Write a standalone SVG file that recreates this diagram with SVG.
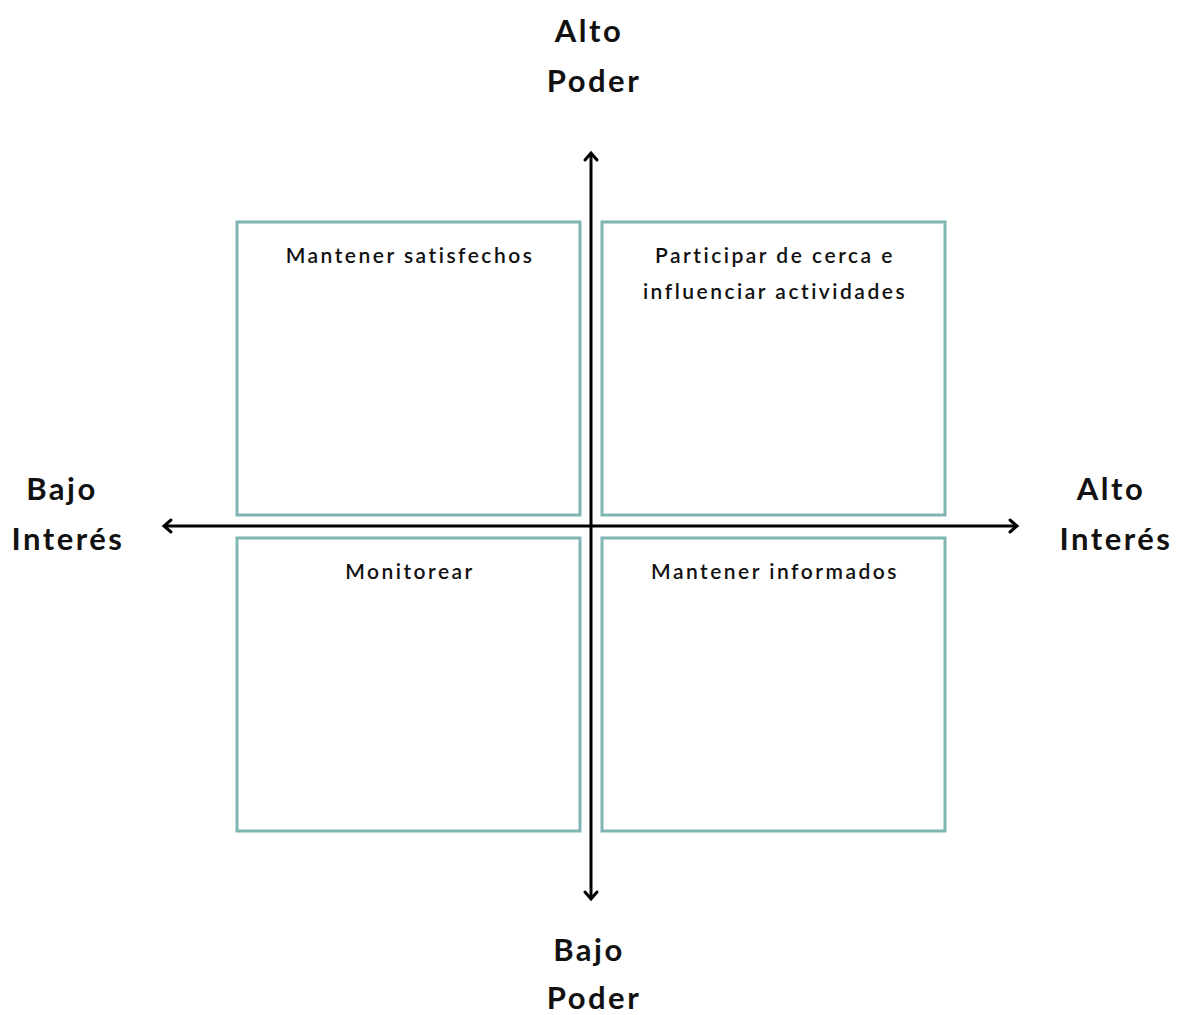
<svg xmlns="http://www.w3.org/2000/svg" width="1180" height="1015" viewBox="0 0 1180 1015">
<style>
.box{fill:#fff;stroke:#7fb5b2;stroke-width:3}
.ax{stroke:#000;stroke-width:3;fill:none}
.hd{stroke:#000;stroke-width:3;fill:none;stroke-linecap:round;stroke-linejoin:miter}
.big{font-family:Lato,"DejaVu Sans",sans-serif;font-size:31px;font-weight:bold;text-anchor:middle;fill:#111;letter-spacing:2.5px}
.lbl{font-family:Lato,"DejaVu Sans",sans-serif;font-size:21px;font-weight:600;text-anchor:middle;fill:#111;letter-spacing:2.5px}
</style>
<rect width="1180" height="1015" fill="#fff"/>
<g id="box-tl"><rect class="box" x="237" y="222" width="343" height="293"/><text class="lbl" x="410" y="263">Mantener satisfechos</text></g>
<g id="box-tr"><rect class="box" x="602" y="222" width="343" height="293"/><text class="lbl" x="775" y="263">Participar de cerca e</text><text class="lbl" x="775" y="299">influenciar actividades</text></g>
<g id="box-bl"><rect class="box" x="237" y="538" width="343" height="293"/><text class="lbl" x="410" y="579">Monitorear</text></g>
<g id="box-br"><rect class="box" x="602" y="538" width="343" height="293"/><text class="lbl" x="775" y="579">Mantener informados</text></g>
<g id="connectors">
<line class="ax" x1="591" y1="153" x2="591" y2="899"/>
<line class="ax" x1="164" y1="526" x2="1017" y2="526"/>
<polyline class="hd" points="585,160 591,153 597,160"/>
<polyline class="hd" points="585,892 591,899 597,892"/>
<polyline class="hd" points="171,520 164,526 171,532"/>
<polyline class="hd" points="1010,520 1017,526 1010,532"/>
</g>
<g id="lbl-top"><text class="big" x="589" y="42">Alto</text><text class="big" x="594" y="92">Poder</text></g>
<g id="lbl-bottom"><text class="big" x="589" y="961">Bajo</text><text class="big" x="594" y="1009">Poder</text></g>
<g id="lbl-left"><text class="big" x="62" y="500">Bajo</text><text class="big" x="68" y="550">Interés</text></g>
<g id="lbl-right"><text class="big" x="1111" y="500">Alto</text><text class="big" x="1116" y="550">Interés</text></g>
</svg>
